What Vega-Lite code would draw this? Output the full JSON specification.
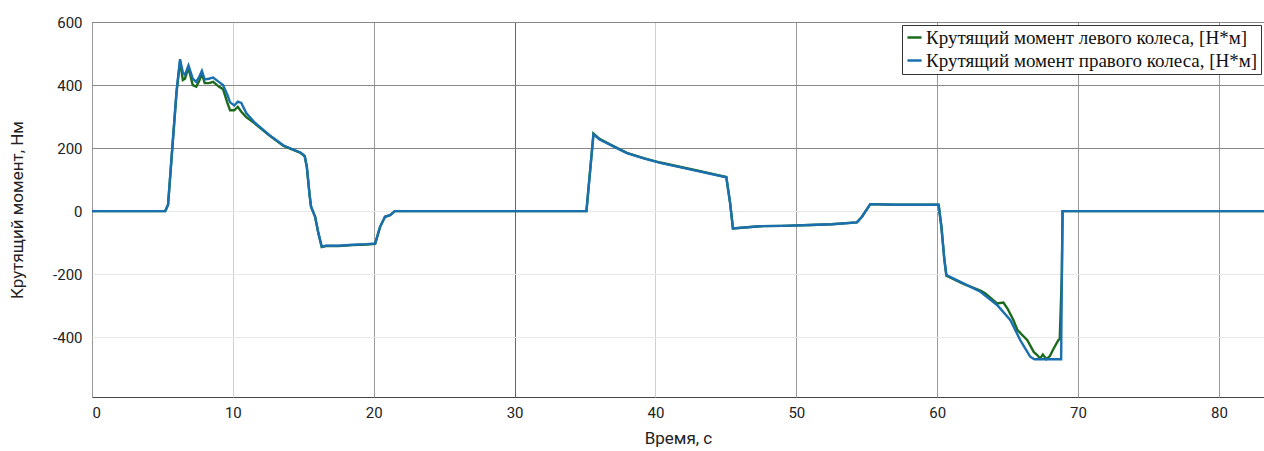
{
  "$schema": "https://vega.github.io/schema/vega-lite/v6.json",
  "width": 1172,
  "height": 375,
  "autosize": {"type": "none"},
  "padding": {"left": 92, "top": 22, "right": 0, "bottom": 54},
  "background": "white",
  "config": {
    "view": {"stroke": "#444", "strokeWidth": 1},
    "font": "Roboto"
  },
  "datasets": {
    "right": [
      {"t": 0, "v": 0}, {"t": 5.2, "v": 0}, {"t": 5.4, "v": 20}, {"t": 5.7, "v": 200}, {"t": 6.0, "v": 380},
      {"t": 6.25, "v": 482}, {"t": 6.45, "v": 440}, {"t": 6.6, "v": 432}, {"t": 6.85, "v": 462}, {"t": 7.15, "v": 420},
      {"t": 7.4, "v": 410}, {"t": 7.6, "v": 425}, {"t": 7.8, "v": 445}, {"t": 8.0, "v": 418}, {"t": 8.3, "v": 420},
      {"t": 8.6, "v": 424}, {"t": 9.0, "v": 410}, {"t": 9.3, "v": 400}, {"t": 9.6, "v": 370}, {"t": 9.8, "v": 345},
      {"t": 10.1, "v": 335}, {"t": 10.35, "v": 347}, {"t": 10.6, "v": 343}, {"t": 10.95, "v": 311}, {"t": 11.5, "v": 283},
      {"t": 12.6, "v": 241}, {"t": 13.6, "v": 208}, {"t": 14.8, "v": 186}, {"t": 15.1, "v": 175}, {"t": 15.25, "v": 141},
      {"t": 15.45, "v": 50}, {"t": 15.55, "v": 14}, {"t": 15.84, "v": -18}, {"t": 16.07, "v": -70}, {"t": 16.31, "v": -113},
      {"t": 16.6, "v": -110}, {"t": 17.5, "v": -110}, {"t": 18.5, "v": -107}, {"t": 19.5, "v": -105}, {"t": 20.1, "v": -103},
      {"t": 20.45, "v": -50}, {"t": 20.8, "v": -18}, {"t": 21.16, "v": -13}, {"t": 21.5, "v": 0}, {"t": 35.1, "v": 0},
      {"t": 35.6, "v": 244}, {"t": 36.0, "v": 228}, {"t": 36.8, "v": 210}, {"t": 37.97, "v": 184}, {"t": 39.16, "v": 167},
      {"t": 40.34, "v": 153}, {"t": 42.7, "v": 130}, {"t": 45.03, "v": 107}, {"t": 45.3, "v": 25}, {"t": 45.5, "v": -55},
      {"t": 47.4, "v": -48}, {"t": 49, "v": -47}, {"t": 51, "v": -44}, {"t": 52.5, "v": -42}, {"t": 54.3, "v": -36},
      {"t": 54.66, "v": -18}, {"t": 55.25, "v": 22}, {"t": 57, "v": 20}, {"t": 60.1, "v": 20}, {"t": 60.3, "v": -50},
      {"t": 60.5, "v": -150}, {"t": 60.65, "v": -203}, {"t": 61.9, "v": -230}, {"t": 63.07, "v": -256}, {"t": 64.25, "v": -298},
      {"t": 65.2, "v": -346}, {"t": 65.9, "v": -410}, {"t": 66.3, "v": -440}, {"t": 66.6, "v": -462}, {"t": 66.9, "v": -470},
      {"t": 68.8, "v": -470}, {"t": 68.85, "v": -200}, {"t": 68.9, "v": 0}, {"t": 83.2, "v": 0}
    ],
    "left": [
      {"t": 0, "v": 0}, {"t": 5.2, "v": 0}, {"t": 5.4, "v": 20}, {"t": 5.7, "v": 200}, {"t": 6.0, "v": 375},
      {"t": 6.25, "v": 476}, {"t": 6.45, "v": 416}, {"t": 6.6, "v": 420}, {"t": 6.85, "v": 455}, {"t": 7.15, "v": 400},
      {"t": 7.4, "v": 395}, {"t": 7.6, "v": 412}, {"t": 7.8, "v": 435}, {"t": 8.0, "v": 406}, {"t": 8.3, "v": 406},
      {"t": 8.6, "v": 410}, {"t": 9.0, "v": 395}, {"t": 9.3, "v": 387}, {"t": 9.6, "v": 345}, {"t": 9.8, "v": 320},
      {"t": 10.1, "v": 320}, {"t": 10.35, "v": 331}, {"t": 10.6, "v": 315}, {"t": 10.95, "v": 298}, {"t": 11.5, "v": 280},
      {"t": 12.6, "v": 240}, {"t": 13.6, "v": 207}, {"t": 14.8, "v": 185}, {"t": 15.1, "v": 174}, {"t": 15.25, "v": 140},
      {"t": 15.45, "v": 50}, {"t": 15.55, "v": 14}, {"t": 15.84, "v": -18}, {"t": 16.07, "v": -70}, {"t": 16.31, "v": -114},
      {"t": 16.6, "v": -111}, {"t": 17.5, "v": -111}, {"t": 18.5, "v": -108}, {"t": 19.5, "v": -106}, {"t": 20.1, "v": -104},
      {"t": 20.45, "v": -50}, {"t": 20.8, "v": -18}, {"t": 21.16, "v": -13}, {"t": 21.5, "v": 0}, {"t": 35.1, "v": 0},
      {"t": 35.6, "v": 246}, {"t": 36.0, "v": 230}, {"t": 36.8, "v": 211}, {"t": 37.97, "v": 185}, {"t": 39.16, "v": 168},
      {"t": 40.34, "v": 154}, {"t": 42.7, "v": 131}, {"t": 45.03, "v": 108}, {"t": 45.3, "v": 25}, {"t": 45.5, "v": -55},
      {"t": 47.4, "v": -48}, {"t": 49, "v": -47}, {"t": 51, "v": -44}, {"t": 52.5, "v": -42}, {"t": 54.3, "v": -36},
      {"t": 54.66, "v": -18}, {"t": 55.25, "v": 22}, {"t": 57, "v": 20}, {"t": 60.1, "v": 20}, {"t": 60.3, "v": -50},
      {"t": 60.5, "v": -150}, {"t": 60.65, "v": -205}, {"t": 61.9, "v": -232}, {"t": 63.07, "v": -252}, {"t": 63.4, "v": -261},
      {"t": 64.25, "v": -293}, {"t": 64.7, "v": -290}, {"t": 65.0, "v": -310}, {"t": 65.4, "v": -345}, {"t": 65.7, "v": -378},
      {"t": 66.4, "v": -410}, {"t": 66.85, "v": -447}, {"t": 67.1, "v": -457}, {"t": 67.3, "v": -468}, {"t": 67.5, "v": -455},
      {"t": 67.75, "v": -470}, {"t": 68.0, "v": -460}, {"t": 68.27, "v": -436}, {"t": 68.6, "v": -410}, {"t": 68.7, "v": -405},
      {"t": 68.85, "v": -200}, {"t": 68.9, "v": 0}, {"t": 83.2, "v": 0}
    ]
  },
  "layer": [
    {
      "data": {"name": "left"},
      "transform": [{"calculate": "'Крутящий момент левого колеса, [Н*м]'", "as": "s"}],
      "mark": {"type": "line", "strokeWidth": 2.4, "clip": true},
      "encoding": {
        "x": {
          "field": "t", "type": "quantitative",
          "scale": {"domain": [0, 83.2], "nice": false, "zero": false},
          "axis": {
            "title": "Время, с", "values": [0, 10, 20, 30, 40, 50, 60, 70, 80],
            "grid": true,
            "gridColor": {"condition": [
              {"test": "datum.value == 30", "value": "#666"},
              {"test": "datum.value == 10 || datum.value == 40", "value": "#d0d0d0"}
            ], "value": "#999"},
            "gridWidth": 1,
            "domain": false, "tickSize": 0, "labelPadding": 8,
            "labelFontSize": 15, "labelColor": "#222", "titleFontSize": 17, "titleFontWeight": "normal",
            "titleColor": "#222", "titlePadding": 10
          }
        },
        "y": {
          "field": "v", "type": "quantitative",
          "scale": {"domain": [-590, 600], "nice": false, "zero": false},
          "axis": {
            "title": "Крутящий момент, Нм", "values": [-400, -200, 0, 200, 400, 600],
            "labelExpr": "datum.value < 0 ? '-' + abs(datum.value) : '' + datum.value",
            "grid": true,
            "gridColor": {"condition": {"test": "datum.value > 0", "value": "#888"}, "value": "#e8e8e8"},
            "gridWidth": 1,
            "domain": false, "tickSize": 0, "labelPadding": 10,
            "labelFontSize": 15, "labelColor": "#222", "titleFontSize": 17, "titleFontWeight": "normal",
            "titleColor": "#222", "titlePadding": 26
          }
        },
        "color": {
          "field": "s", "type": "nominal",
          "scale": {
            "domain": ["Крутящий момент левого колеса, [Н*м]", "Крутящий момент правого колеса, [Н*м]"],
            "range": ["#1c6b1c", "#1a6fb0"]
          },
          "legend": {
            "title": null, "orient": "top-right", "offset": 3,
            "strokeColor": "#333", "fillColor": "white", "padding": 3,
            "symbolType": "stroke", "symbolSize": 200, "symbolStrokeWidth": 2.5,
            "labelFont": "Liberation Serif", "labelFontSize": 19, "labelColor": "#111",
            "labelLimit": 500, "labelOffset": 2, "rowPadding": 3
          }
        }
      }
    },
    {
      "data": {"name": "right"},
      "transform": [{"calculate": "'Крутящий момент правого колеса, [Н*м]'", "as": "s"}],
      "mark": {"type": "line", "strokeWidth": 2.4, "clip": true},
      "encoding": {
        "x": {"field": "t", "type": "quantitative"},
        "y": {"field": "v", "type": "quantitative"},
        "color": {"field": "s", "type": "nominal"}
      }
    }
  ]
}
